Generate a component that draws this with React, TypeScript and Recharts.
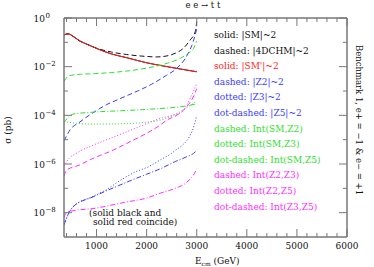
import React from 'react';
import { LineChart, Line, XAxis, YAxis } from 'recharts';

type Pt = [number, number];

// [E_cm (GeV), log10(sigma / pb)]
const smSq: Pt[] = [[350, -0.7], [430, -0.65], [550, -0.78], [670, -0.95], [800, -1.07], [1000, -1.25], [1300, -1.48], [1600, -1.63], [2000, -1.84], [2300, -1.96], [2600, -2.07], [3000, -2.21]];
const chmSq: Pt[] = [[350, -0.7], [430, -0.65], [550, -0.78], [670, -0.95], [800, -1.07], [1000, -1.24], [1300, -1.4], [1600, -1.5], [2000, -1.58], [2200, -1.6], [2400, -1.56], [2570, -1.45], [2730, -1.25], [2870, -0.9], [2970, -0.56], [3000, -0.15]];
const smPrimeSq: Pt[] = [[350, -0.7], [430, -0.65], [550, -0.78], [670, -0.95], [800, -1.07], [1000, -1.25], [1300, -1.48], [1600, -1.63], [2000, -1.84], [2300, -1.96], [2600, -2.07], [3000, -2.21]];
const z2Sq: Pt[] = [[350, -5.05], [470, -4.6], [670, -4.27], [1000, -3.8], [1200, -3.56], [1430, -3.35], [1630, -3.17], [1830, -2.99], [2100, -2.72], [2400, -2.35], [2600, -2.07], [2830, -1.45], [2930, -0.97], [3000, -0.45]];
const z3Sq: Pt[] = [[350, -8.5], [450, -8.0], [530, -7.76], [930, -7.33], [1200, -7.05], [1470, -6.68], [1770, -6.33], [2030, -6.12], [2300, -5.8], [2470, -5.6], [2600, -5.4], [2700, -5.25], [2870, -4.81], [2950, -4.4], [3000, -4.0]];
const z5Sq: Pt[] = [[350, -8.5], [450, -8.0], [530, -7.76], [930, -7.35], [1370, -6.95], [1600, -6.75], [2000, -6.42], [2270, -6.2], [2570, -5.9], [2800, -5.7], [2970, -5.5], [3000, -5.42]];
const intSmZ2: Pt[] = [[350, -2.6], [450, -2.37], [700, -2.31], [930, -2.29], [1300, -2.24], [1600, -2.18], [2000, -2.06], [2270, -1.94], [2500, -1.8], [2670, -1.66], [2830, -1.45], [2950, -1.2], [3000, -0.95]];
const intSmZ3: Pt[] = [[350, -4.25], [530, -4.31], [930, -4.36], [1600, -4.34], [2000, -4.28], [2270, -4.2], [2550, -3.99], [2770, -3.72], [2900, -3.55], [3000, -3.42]];
const intSmZ5: Pt[] = [[350, -4.3], [450, -4.05], [530, -3.95], [930, -3.87], [1600, -3.8], [2270, -3.72], [2670, -3.65], [3000, -3.53]];
const intZ2Z3: Pt[] = [[350, -6.5], [400, -6.26], [650, -6.05], [930, -5.77], [1330, -5.43], [1730, -5.02], [2000, -4.74], [2270, -4.4], [2400, -4.2], [2600, -4.0], [2800, -3.65], [2930, -3.25], [3000, -2.9]];
const intZ2Z5: Pt[] = [[350, -6.1], [400, -5.91], [650, -5.5], [930, -5.23], [1270, -4.95], [1600, -4.68], [2000, -4.34], [2270, -4.13], [2530, -3.99], [2700, -3.86], [2800, -3.58], [2900, -3.17], [3000, -2.69]];
const intZ3Z5: Pt[] = [[350, -8.2], [400, -8.0], [530, -7.92], [930, -7.83], [1600, -7.56], [2000, -7.4], [2270, -7.2], [2570, -7.0], [2800, -6.75], [2970, -6.33], [3000, -6.2]];

const xMajor = [1000, 2000, 3000, 4000, 5000, 6000];
const yTicks = [0, -1, -2, -3, -4, -5, -6, -7, -8];
const yMajor = [0, -2, -4, -6, -8];

const legendLabels = [
  'solid: |SM|~2',
  'dashed: |4DCHM|~2',
  "solid: |SM'|~2",
  'dashed: |Z2|~2',
  'dotted: |Z3|~2',
  'dot-dashed: |Z5|~2',
  'dashed: Int(SM,Z2)',
  'dotted: Int(SM,Z3)',
  'dot-dashed: Int(SM,Z5)',
  'dashed: Int(Z2,Z3)',
  'dotted: Int(Z2,Z5)',
  'dot-dashed: Int(Z3,Z5)',
];

const BLACK = '#111';
const RED = '#ff1a1a';
const BLUE = '#3a3aff';
const GREEN = '#2ee02e';
const MAGENTA = '#ff2eff';
const AXIS = '#777';
const FONT = "'DejaVu Serif', serif";

const DASH = '5 3';
const DOT = '1 2';
const DOTDASH = '5 2 1 2';

const series = [
  { pts: smSq, color: BLACK, dash: undefined },
  { pts: chmSq, color: BLACK, dash: DASH },
  { pts: smPrimeSq, color: RED, dash: undefined },
  { pts: z2Sq, color: BLUE, dash: DASH },
  { pts: z3Sq, color: BLUE, dash: DOT },
  { pts: z5Sq, color: BLUE, dash: DOTDASH },
  { pts: intSmZ2, color: GREEN, dash: DASH },
  { pts: intSmZ3, color: GREEN, dash: DOT },
  { pts: intSmZ5, color: GREEN, dash: DOTDASH },
  { pts: intZ2Z3, color: MAGENTA, dash: DASH },
  { pts: intZ2Z5, color: MAGENTA, dash: DOT },
  { pts: intZ3Z5, color: MAGENTA, dash: DOTDASH },
];

const xTicks: number[] = [];
for (let e = 400; e <= 6000; e += 200) xTicks.push(e);

const toRows = (pts: Pt[]) => pts.map(([e, s]) => ({ e, s }));

const BottomTick = (props: any) => {
  const { x, y, payload } = props;
  const major = xMajor.includes(payload.value);
  return (
    <g>
      <line x1={x} x2={x} y1={y} y2={y - (major ? 8 : 4)} stroke={AXIS} />
      {major && (
        <text x={x} y={y + 12} textAnchor="middle" fontSize={9} fontFamily={FONT} fill={BLACK}>
          {payload.value}
        </text>
      )}
    </g>
  );
};

const TopTick = (props: any) => {
  const { x, y, payload } = props;
  const major = xMajor.includes(payload.value);
  return <line x1={x} x2={x} y1={y} y2={y + (major ? 8 : 4)} stroke={AXIS} />;
};

const LeftTick = (props: any) => {
  const { x, y, payload } = props;
  const v = payload.value;
  const major = yMajor.includes(v);
  return (
    <g>
      <line x1={x} x2={x + (major ? 8 : 4)} y1={y} y2={y} stroke={AXIS} />
      {major && (
        <>
          <text x={x - 19} y={y + 3.5} textAnchor="end" fontSize={9} fontFamily={FONT} fill={BLACK}>10</text>
          <text x={x - 18.5} y={y - 0.5} fontSize={7} fontFamily={FONT} fill={BLACK}>
            {v === 0 ? '0' : '\u2212' + Math.abs(v)}
          </text>
        </>
      )}
    </g>
  );
};

const RightTick = (props: any) => {
  const { x, y, payload } = props;
  const major = yMajor.includes(payload.value);
  return <line x1={x} x2={x - (major ? 8 : 4)} y1={y} y2={y} stroke={AXIS} />;
};

const legendColors = [BLACK, BLACK, RED, BLUE, BLUE, BLUE, GREEN, GREEN, GREEN, MAGENTA, MAGENTA, MAGENTA];

export default function App() {
  return (
    <div style={{ position: 'absolute', left: 0, top: 0, width: 374, height: 267, background: '#fff' }}>
      <LineChart width={374} height={267} margin={{ top: 0, right: 0, bottom: 0, left: 0 }}>
        <XAxis xAxisId="b" type="number" dataKey="e" domain={[350, 6000]} allowDataOverflow orientation="bottom"
          height={30} ticks={xTicks} interval={0} tickSize={0} tickMargin={0} tickLine={false}
          axisLine={{ stroke: AXIS, strokeWidth: 1.5 }} tick={BottomTick} />
        <XAxis xAxisId="t" type="number" dataKey="e" domain={[350, 6000]} allowDataOverflow orientation="top"
          height={18} ticks={xTicks} interval={0} tickSize={0} tickMargin={0} tickLine={false}
          axisLine={{ stroke: AXIS, strokeWidth: 1.5 }} tick={TopTick} />
        <YAxis yAxisId="l" type="number" dataKey="s" domain={[-9, 0]} allowDataOverflow orientation="left"
          width={64} ticks={yTicks} interval={0} tickSize={0} tickMargin={0} tickLine={false}
          axisLine={{ stroke: AXIS, strokeWidth: 1.5 }} tick={LeftTick} />
        <YAxis yAxisId="r" type="number" dataKey="s" domain={[-9, 0]} allowDataOverflow orientation="right"
          width={27} ticks={yTicks} interval={0} tickSize={0} tickMargin={0} tickLine={false}
          axisLine={{ stroke: AXIS, strokeWidth: 1.5 }} tick={RightTick} />
        {series.map((s, i) => (
          <Line key={i} data={toRows(s.pts)} dataKey="s" xAxisId="b" yAxisId="l" type="monotone"
            stroke={s.color} strokeWidth={1} strokeDasharray={s.dash} dot={false} activeDot={false}
            isAnimationActive={false} />
        ))}
      </LineChart>
      <svg width={374} height={267} style={{ position: 'absolute', left: 0, top: 0, pointerEvents: 'none' }}
        fontFamily={FONT}>
        <text x={203} y={8} textAnchor="middle" fontSize={8.5} fill={BLACK}>e e → t t</text>
        <text transform="translate(11,130) rotate(-90)" textAnchor="middle" fontSize={9} fill={BLACK}>σ (pb)</text>
        <text transform="translate(356,120) rotate(90)" textAnchor="middle" fontSize={8.5} fill={BLACK}>
          Benchmark 1, e+ = −1 &amp; e− = +1
        </text>
        <text x={195} y={264} fontSize={9} fill={BLACK}>
          E<tspan fontSize={6} dy={2}>cm</tspan><tspan dy={-2}> (GeV)</tspan>
        </text>
        {legendLabels.map((l, i) => (
          <text key={l} x={214} y={38 + i * 15.6} fontSize={9} fill={legendColors[i]}>{l}</text>
        ))}
        <text x={89} y={215.5} fontSize={9} fill={BLACK}>(solid black and</text>
        <text x={93} y={225} fontSize={9} fill={BLACK}>solid red coincide)</text>
      </svg>
    </div>
  );
}
